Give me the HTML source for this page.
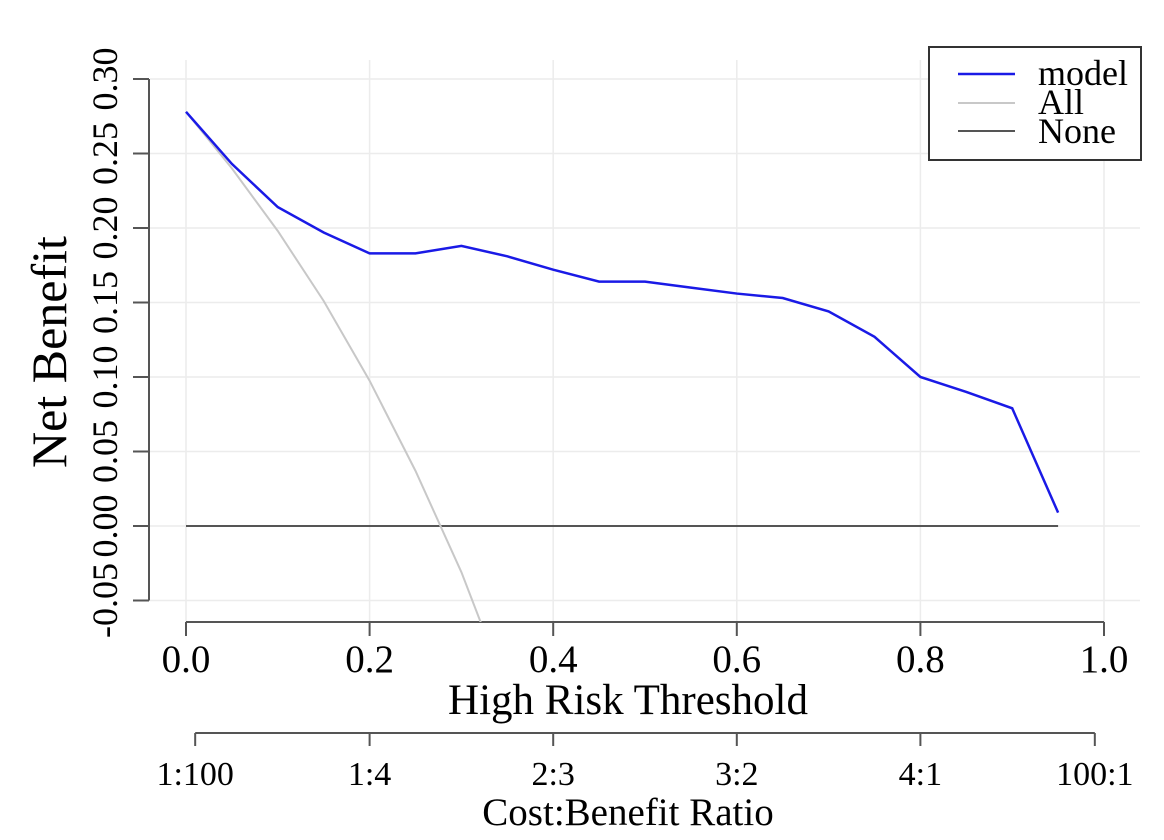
<!DOCTYPE html>
<html><head><meta charset="utf-8"><style>
html,body{margin:0;padding:0;background:#fff;width:1164px;height:840px;overflow:hidden;}
svg{display:block;font-family:"Liberation Serif",serif;}
</style></head><body>
<svg id="chart" width="1164" height="840" viewBox="0 0 1164 840" xmlns="http://www.w3.org/2000/svg">
<defs><clipPath id="plotclip"><rect x="150" y="40" width="1000" height="582"/></clipPath></defs>
<g id="grid"></g>
<g id="axes"></g>
<g id="series" clip-path="url(#plotclip)"></g>
<text transform="translate(66,352) rotate(-90)" text-anchor="middle" font-size="50">Net Benefit</text>
<text x="628" y="714" text-anchor="middle" font-size="43">High Risk Threshold</text>
<text x="628" y="825" text-anchor="middle" font-size="39">Cost:Benefit Ratio</text>
<g>
<rect x="929" y="47" width="212" height="113" fill="#fff" stroke="#333" stroke-width="2"/>
<line x1="958" y1="74" x2="1015" y2="74" stroke="#1a1ae6" stroke-width="2.5"/>
<text x="1038" y="85" font-size="36">model</text>
<line x1="958" y1="103" x2="1015" y2="103" stroke="#c8c8c8" stroke-width="2"/>
<text x="1038" y="114" font-size="36">All</text>
<line x1="958" y1="131" x2="1015" y2="131" stroke="#555" stroke-width="2"/>
<text x="1038" y="143" font-size="36">None</text>
</g>
</svg>
<script>
const thresholds=[0,0.05,0.1,0.15,0.2,0.25,0.3,0.35,0.4,0.45,0.5,0.55,0.6,0.65,0.7,0.75,0.8,0.85,0.9,0.95];
const modelNB=[0.278,0.243,0.214,0.197,0.183,0.183,0.188,0.181,0.172,0.164,0.164,0.160,0.156,0.153,0.144,0.127,0.100,0.090,0.079,0.009];
const allNB=[0.278,0.240,0.198,0.151,0.0975,0.037,-0.031,-0.111,-0.203,-0.313,-0.444,-0.605,-0.805,-1.063,-1.407,-1.888,-2.610,-3.813,-6.220,-13.44];
const noneNB=[0,0,0,0,0,0,0,0,0,0,0,0,0,0,0,0,0,0,0,0];
const xTicks=[0,0.2,0.4,0.6,0.8,1.0];
const xTickLabels=["0.0","0.2","0.4","0.6","0.8","1.0"];
const yTicks=[-0.05,0,0.05,0.1,0.15,0.2,0.25,0.3];
const yTickLabels=["-0.05","0.00","0.05","0.10","0.15","0.20","0.25","0.30"];
const cbTicks=[0.01,0.2,0.4,0.6,0.8,0.99];
const cbLabels=["1:100","1:4","2:3","3:2","4:1","100:1"];
const NS="http://www.w3.org/2000/svg";
const X=v=>186+v*918;
const Y=v=>526-v*1490;
function mk(tag,attrs,parent){const e=document.createElementNS(NS,tag);for(const k in attrs)e.setAttribute(k,attrs[k]);parent.appendChild(e);return e;}
const grid=document.getElementById('grid'),axes=document.getElementById('axes'),series=document.getElementById('series');
xTicks.forEach(t=>{const l=mk('line',{x1:X(t),x2:X(t),y1:60,y2:622,stroke:'#ececec','stroke-width':1.5},grid);

});
yTicks.forEach(t=>{const l=mk('line',{x1:150,x2:1140,y1:Y(t),y2:Y(t),stroke:'#ececec','stroke-width':1.5},grid);

});
let a=mk('line',{x1:149,x2:149,y1:Y(0.3),y2:Y(-0.05),stroke:'#555','stroke-width':2},axes);


yTicks.forEach((t,i)=>{const l=mk('line',{x1:133,x2:149,y1:Y(t),y2:Y(t),stroke:'#555','stroke-width':2},axes);


const tx=mk('text',{transform:`translate(117,${Y(t)}) rotate(-90)`,'text-anchor':'middle','font-size':36},axes);tx.textContent=yTickLabels[i];

});
a=mk('line',{x1:X(0),x2:X(1),y1:622,y2:622,stroke:'#555','stroke-width':2},axes);


xTicks.forEach((t,i)=>{const l=mk('line',{x1:X(t),x2:X(t),y1:622,y2:636,stroke:'#555','stroke-width':2},axes);


const tx=mk('text',{x:X(t),y:672,'text-anchor':'middle','font-size':39},axes);tx.textContent=xTickLabels[i];

});
a=mk('line',{x1:X(0.01),x2:X(0.99),y1:733,y2:733,stroke:'#555','stroke-width':2},axes);


cbTicks.forEach((t,i)=>{const l=mk('line',{x1:X(t),x2:X(t),y1:733,y2:746,stroke:'#555','stroke-width':2},axes);


const tx=mk('text',{x:X(t),y:785,'text-anchor':'middle','font-size':34},axes);tx.textContent=cbLabels[i];

});
function line(vals,color,w,name){const d=thresholds.map((t,i)=>(i?'L':'M')+X(t)+','+Y(vals[i])).join(' ');
const p=mk('path',{d:d,fill:'none',stroke:color,'stroke-width':w},series);

}
line(noneNB,'#555',2,'none-line');
line(allNB,'#c8c8c8',2,'all-line');
line(modelNB,'#1a1ae6',2.5,'model-line');
</script>
</body></html>
